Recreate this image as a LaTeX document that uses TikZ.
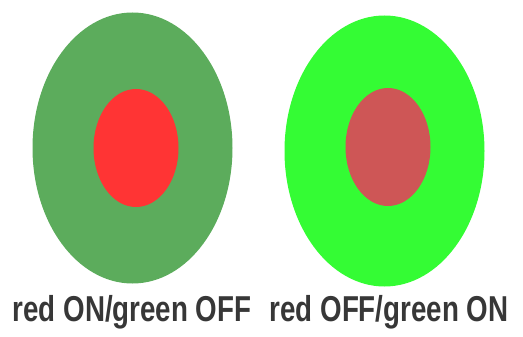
\documentclass[tikz,border=0pt]{standalone}
\usepackage{fontspec}
\setmainfont{Liberation Sans}
\usepackage{tikz}
\usetikzlibrary{shapes.geometric}
\definecolor{dimgreen}{RGB}{92,172,92}
\definecolor{litred}{RGB}{255,52,52}
\definecolor{litgreen}{RGB}{52,252,52}
\definecolor{dimred}{RGB}{206,86,86}
\definecolor{captiongray}{RGB}{55,55,55}
\tikzset{
  lamp/.style={ellipse,inner sep=0pt,minimum width=200pt,minimum height=271pt},
  core/.style={ellipse,inner sep=0pt,minimum width=85pt,minimum height=118pt},
  caption/.style={anchor=base,font=\fontsize{36}{40}\selectfont\bfseries,
    text=captiongray,xscale=0.77,inner sep=0pt}
}

\begin{document}
\begin{tikzpicture}[x=1pt,y=-1pt]
  \useasboundingbox (0,0) rectangle (523,337);

  \node[lamp,fill=dimgreen] (leftlamp) at (132.5,148) {};
  \node[core,fill=litred] (leftcore) at (136,148) {};
  \node[caption] (leftcap) at (132,321) {red ON/green OFF};

  \node[lamp,fill=litgreen] (rightlamp) at (384.5,151) {};
  \node[core,fill=dimred] (rightcore) at (388,147) {};
  \node[caption] (rightcap) at (389,321) {red OFF/green ON};
\end{tikzpicture}
\end{document}
